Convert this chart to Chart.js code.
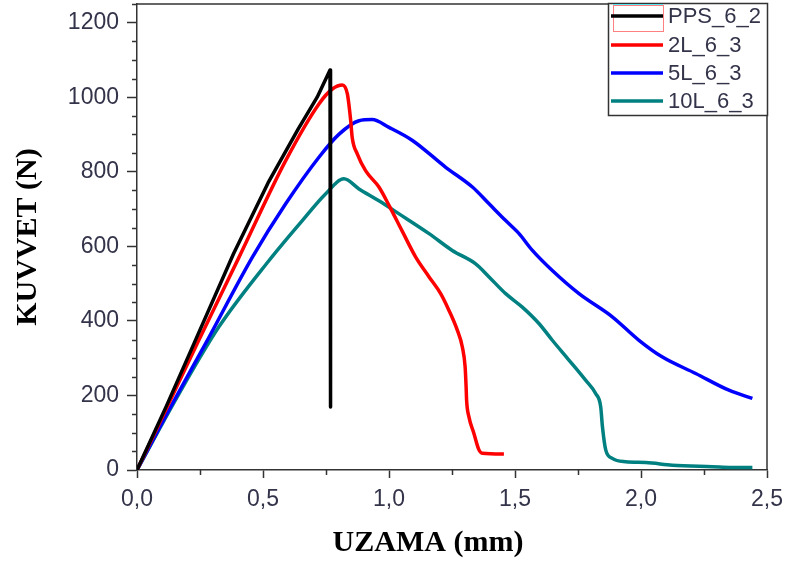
<!DOCTYPE html>
<html><head><meta charset="utf-8">
<script src="https://cdn.jsdelivr.net/npm/chart.js@4/dist/chart.umd.min.js"></script>
<style>html,body{margin:0;padding:0;background:#fff}#wrap{width:790px;height:563px}</style>
</head><body><div id="wrap"><canvas id="c" width="790" height="563"></canvas></div>
<script>
const seriesLabels = ['PPS_6_2', '2L_6_3', '5L_6_3', '10L_6_3'];
const seriesColors = ['#000000', '#ff0000', '#0000ff', '#008080'];
const xTitle = 'UZAMA (mm)';
const yTitle = 'KUVVET (N)';

const ppsX = [0, 0.117, 0.226, 0.383, 0.520, 0.640, 0.715, 0.766, 0.768];
const ppsY = [0, 172, 339, 580, 770, 915, 1000, 1073, 169];

const l2X = [0, 0.12, 0.239, 0.405, 0.590, 0.722, 0.775, 0.815, 0.835, 0.848, 0.854, 0.874, 0.907, 0.960, 1.0, 1.053, 1.106, 1.159, 1.205, 1.238, 1.271, 1.291, 1.302, 1.306, 1.308, 1.317, 1.337, 1.357, 1.370, 1.456];
const l2Y = [0, 170, 339, 571, 830, 982, 1022, 1033, 1008, 937, 892, 848, 803, 759, 710, 640, 571, 518, 473, 428, 375, 330, 277, 223, 187, 143, 98, 54, 45, 43];

const l5X = [0, 0.13, 0.272, 0.458, 0.590, 0.722, 0.802, 0.881, 0.933, 1.0, 1.093, 1.225, 1.331, 1.397, 1.463, 1.516, 1.569, 1.648, 1.754, 1.886, 1.992, 2.085, 2.217, 2.349, 2.442];
const l5Y = [0, 165, 339, 571, 714, 839, 901, 937, 940, 919, 884, 812, 759, 714, 669, 634, 589, 535, 473, 411, 348, 303, 259, 214, 192];

const l10X = [0, 0.167, 0.325, 0.524, 0.656, 0.749, 0.821, 0.881, 0.960, 1.040, 1.159, 1.251, 1.344, 1.397, 1.463, 1.529, 1.595, 1.648, 1.714, 1.780, 1.820, 1.840, 1.847, 1.860, 1.886, 1.939, 2.019, 2.124, 2.283, 2.362, 2.442];
const l10Y = [0, 205, 384, 562, 669, 741, 781, 754, 722, 687, 634, 589, 553, 518, 473, 437, 393, 348, 295, 241, 205, 170, 116, 54, 31, 22, 20, 13, 9, 7, 7];

const xTickValues = [0, 0.5, 1.0, 1.5, 2.0, 2.5];
const yTickValues = [0, 200, 400, 600, 800, 1000, 1200];

const allX = [ppsX, l2X, l5X, l10X];
const allY = [ppsY, l2Y, l5Y, l10Y];
const interp = ['default', 'monotone', 'monotone', 'monotone'];

const datasets = seriesLabels.map((lab, i) => ({
  label: lab,
  data: allX[i].map((x, j) => ({x: x, y: allY[i][j]})),
  borderColor: seriesColors[i],
  backgroundColor: seriesColors[i],
  borderWidth: 3.5,
  pointRadius: 0,
  showLine: true,
  tension: 0,
  cubicInterpolationMode: interp[i],
  borderJoinStyle: 'round',
  fill: false
}));

const AX = '#333333';

const framePlugin = {
  id: 'frame',
  afterDraw(chart) {
    const ctx = chart.ctx, a = chart.chartArea;
    const xs = chart.scales.x, ys = chart.scales.y;
    ctx.save();
    ctx.strokeStyle = AX;
    ctx.lineWidth = 1.5;
    ctx.beginPath();
    ctx.moveTo(a.left, a.top); ctx.lineTo(a.right, a.top); ctx.lineTo(a.right, a.bottom);
    ctx.stroke();
    // minor ticks
    ctx.beginPath();
    for (let v = 50; v <= ys.max; v += 50) {
      if (v % 200 === 0) continue;
      const p = Math.round(ys.getPixelForValue(v)) + 0.5;
      ctx.moveTo(a.left - 5, p); ctx.lineTo(a.left, p);
    }
    for (let v = 0.25; v < xs.max; v += 0.5) {
      const p = Math.round(xs.getPixelForValue(v)) + 0.5;
      ctx.moveTo(p, a.bottom); ctx.lineTo(p, a.bottom + 5);
    }
    ctx.stroke();
    // x title
    ctx.fillStyle = '#000';
    ctx.font = 'bold 30px "Liberation Serif", "Times New Roman", serif';
    ctx.textAlign = 'center';
    ctx.textBaseline = 'alphabetic';
    ctx.fillText(xTitle, 428, 551);
    // legend
    const bx = 608, by = 3, bw = a.right - 608, bh = 112;
    ctx.fillStyle = '#fff';
    ctx.fillRect(bx, by, bw, bh);
    ctx.strokeStyle = AX;
    ctx.lineWidth = 1.5;
    ctx.strokeRect(bx + 0.5, by + 0.5, bw, bh);
    ctx.strokeStyle = '#55e8f0';
    ctx.lineWidth = 2;
    ctx.beginPath(); ctx.moveTo(613, 5); ctx.lineTo(663, 5); ctx.stroke();
    ctx.strokeStyle = '#ff8080';
    ctx.lineWidth = 1;
    ctx.strokeRect(613.5, 5.5, 50, 26);
    const ys2 = [16, 45, 73, 101];
    ctx.font = '22px "Liberation Sans", Arial, sans-serif';
    ctx.textAlign = 'left';
    ctx.textBaseline = 'middle';
    chart.data.datasets.forEach((d, i) => {
      ctx.strokeStyle = d.borderColor;
      ctx.lineWidth = 3.5;
      ctx.beginPath(); ctx.moveTo(611, ys2[i]); ctx.lineTo(663, ys2[i]); ctx.stroke();
      ctx.fillStyle = '#33334a';
      ctx.fillText(d.label, 668, ys2[i] + 1);
    });
    ctx.restore();
  }
};

new Chart(document.getElementById('c'), {
  type: 'scatter',
  data: { datasets: datasets },
  options: {
    responsive: false,
    animation: false,
    layout: { padding: { left: 10, right: 23, top: 4, bottom: 0 } },
    plugins: { legend: { display: false }, tooltip: { enabled: false } },
    scales: {
      x: {
        type: 'linear', min: 0, max: 2.5,
        afterBuildTicks: s => { s.ticks = xTickValues.map(v => ({value: v})); },
        afterFit: s => { s.height = 93; s.paddingLeft = 0; s.paddingRight = 0; },
        ticks: {
          font: { family: '"Liberation Sans", Arial, sans-serif', size: 23 },
          color: '#33334a', padding: 8, maxRotation: 0,
          callback: v => v.toFixed(1).replace('.', ',')
        },
        grid: { drawOnChartArea: false, drawTicks: true, tickLength: 8, tickColor: AX, tickWidth: 1.5 },
        border: { display: true, color: AX, width: 1.5 },
        title: { display: false }
      },
      y: {
        type: 'linear', min: 0, max: 1250,
        afterBuildTicks: s => { s.ticks = yTickValues.map(v => ({value: v})); },
        afterFit: s => { s.width = 127; s.paddingTop = 0; s.paddingBottom = 0; },
        ticks: {
          font: { family: '"Liberation Sans", Arial, sans-serif', size: 23 },
          color: '#33334a', padding: 8,
          callback: v => String(v)
        },
        grid: { drawOnChartArea: false, drawTicks: true, tickLength: 10, tickColor: AX, tickWidth: 1.5 },
        border: { display: true, color: AX, width: 1.5 },
        title: {
          display: true, text: yTitle, color: '#000', padding: 0,
          font: { family: '"Liberation Serif", "Times New Roman", serif', size: 30, weight: 'bold' }
        }
      }
    }
  },
  plugins: [framePlugin]
});
</script>
</body></html>
